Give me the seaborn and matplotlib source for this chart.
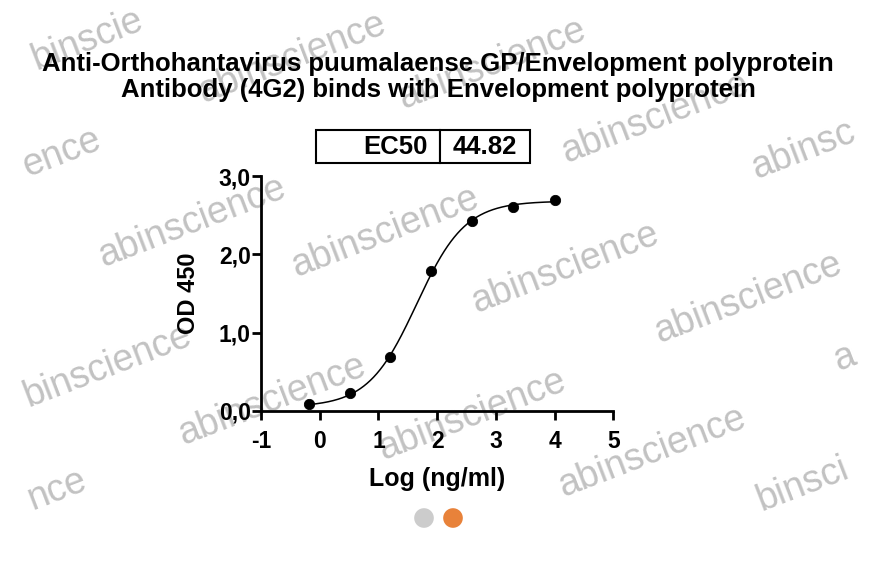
import numpy as np
import pandas as pd
import matplotlib
matplotlib.use("Agg")
import matplotlib.pyplot as plt
import seaborn as sns

# data
log_conc = [-0.19, 0.51, 1.20, 1.90, 2.60, 3.30, 4.00]
od450 = [0.085, 0.23, 0.69, 1.79, 2.42, 2.61, 2.70]

# 4PL fit parameters (EC50 from the table)
ec50 = 44.82
bottom = 0.05
top = 2.68
hill = 1.05

x_ticks = [-1, 0, 1, 2, 3, 4, 5]
y_ticks = [0.0, 1.0, 2.0, 3.0]
y_ticklabels = ["0,0", "1,0", "2,0", "3,0"]

title = ("Anti-Orthohantavirus puumalaense GP/Envelopment polyprotein\n"
         "Antibody (4G2) binds with Envelopment polyprotein")

# watermark fragments as seen (text, x px, y px)
wm_text = ["binscie", "abinscience", "abinscience", "abinscience", "ence", "abinsc",
           "abinscience", "abinscience", "abinscience", "abinscience", "binscience",
           "abinscience", "abinscience", "abinscience", "nce", "binsci", "a"]
wm_x = [88, 292, 492, 655, 62, 803, 192, 385, 565, 748, 108, 272, 472, 652, 57, 803, 845]
wm_y = [40, 58, 64, 118, 153, 150, 222, 232, 268, 298, 366, 400, 415, 452, 490, 484, 358]

sns.set_style("ticks")
plt.rcParams["font.family"] = ["Liberation Sans", "DejaVu Sans"]
plt.rcParams["axes.unicode_minus"] = False
for k in ["text.color", "axes.labelcolor", "xtick.color", "ytick.color", "axes.edgecolor"]:
    plt.rcParams[k] = "black"

df = pd.DataFrame({"x": log_conc, "y": od450})
xs = np.linspace(min(log_conc), max(log_conc), 300)
fit = pd.DataFrame({"x": xs,
                    "y": bottom + (top - bottom) / (1 + 10 ** ((np.log10(ec50) - xs) * hill))})

fig = plt.figure(figsize=(8.76, 5.66), dpi=100)

# background layer in pixel coords for watermark + carousel dots
bg = fig.add_axes([0, 0, 1, 1], zorder=-1)
bg.set_xlim(0, 876)
bg.set_ylim(566, 0)
bg.axis("off")
for t, px, py in zip(wm_text, wm_x, wm_y):
    bg.text(px, py, t, fontsize=27, color="#c2c2c2", rotation=21,
            ha="center", va="center", rotation_mode="anchor")
bg.scatter([424, 453], [518, 518], s=200, c=["#cccccc", "#e8823a"], linewidths=0)

ax = fig.add_axes([0.298, 0.274, 0.402, 0.415])
sns.lineplot(data=fit, x="x", y="y", color="black", linewidth=1.1, ax=ax)
sns.scatterplot(data=df, x="x", y="y", color="black", s=55, edgecolor="black", zorder=5, ax=ax)

ax.set_xlim(-1, 5)
ax.set_ylim(0, 3.0)
ax.set_xticks(x_ticks)
ax.set_yticks(y_ticks)
ax.set_yticklabels(y_ticklabels)
for s in ["top", "right"]:
    ax.spines[s].set_visible(False)
for s in ["left", "bottom"]:
    ax.spines[s].set_linewidth(2)
ax.tick_params(width=2, length=6.5, labelsize=16.5, colors="black")
ax.tick_params(axis="x", pad=7)
ax.tick_params(axis="y", pad=1)
for lab in ax.get_xticklabels() + ax.get_yticklabels():
    lab.set_fontweight("bold")
ax.set_xlabel("Log (ng/ml)", fontsize=18, fontweight="bold", labelpad=10)
ax.set_ylabel("OD 450", fontsize=17, fontweight="bold", labelpad=13)
ax.patch.set_alpha(0)

fig.text(0.5, 1 - 77 / 566, title, ha="center", va="center", fontsize=18.5,
         fontweight="bold", linespacing=1.1)

# EC50 table
tab = ax.table(cellText=[["EC50", "44.82"]], colWidths=[0.58, 0.42],
               bbox=[0.156, 1.055, 0.608, 0.14], cellLoc="right")
tab.auto_set_font_size(False)
for (r, c), cell in tab.get_celld().items():
    cell.set_linewidth(1.5)
    cell.get_text().set_fontsize(18.5)
    cell.get_text().set_fontweight("bold")
    if c == 1:
        cell.get_text().set_ha("center")
        cell._loc = "center"

plt.savefig("out.png", dpi=100)
plt.close()
